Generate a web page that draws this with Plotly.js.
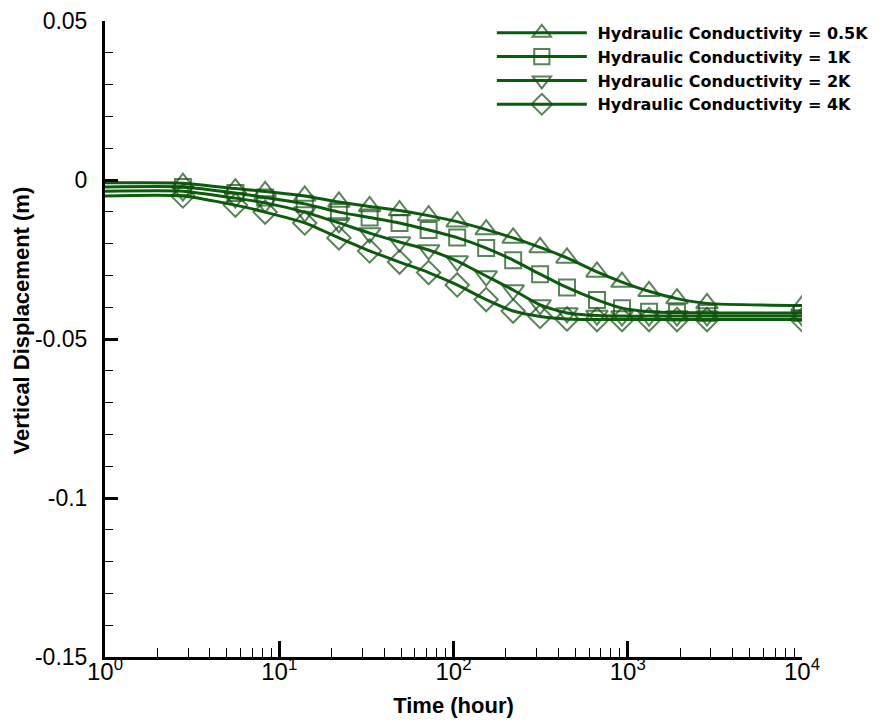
<!DOCTYPE html>
<html>
<head>
<meta charset="utf-8">
<script src="https://cdn.plot.ly/plotly-3.0.1.min.js"></script>
<style>
html,body{margin:0;padding:0;background:#fff;}
#chart{width:896px;height:724px;}
</style>
</head>
<body>
<div id="chart"></div>
<script>
// Time (hour)
const time = [1, 2.8, 5.6, 8.3, 14, 22, 33, 49, 72, 105, 154, 220, 314, 448, 666, 927, 1325, 1917, 2850, 10000];
// Vertical displacement (m)
const k05 = [-0.0009, -0.0010, -0.0027, -0.0036, -0.0050, -0.0069, -0.0083, -0.0096, -0.0112, -0.0131, -0.0156, -0.0182, -0.0212, -0.0245, -0.0289, -0.0321, -0.0350, -0.0373, -0.0388, -0.0395];
const k1  = [-0.0022, -0.0022, -0.0041, -0.0055, -0.0075, -0.0101, -0.0118, -0.0135, -0.0157, -0.0181, -0.0214, -0.0252, -0.0296, -0.0338, -0.0377, -0.0403, -0.0414, -0.0417, -0.0418, -0.0418];
const k2  = [-0.0035, -0.0035, -0.0057, -0.0072, -0.0101, -0.0135, -0.0167, -0.0195, -0.0220, -0.0255, -0.0302, -0.0346, -0.0393, -0.0418, -0.0426, -0.0428, -0.0428, -0.0428, -0.0428, -0.0428];
const k4  = [-0.0050, -0.0050, -0.0079, -0.0101, -0.0135, -0.0182, -0.0223, -0.0258, -0.0291, -0.0330, -0.0376, -0.0412, -0.0429, -0.0437, -0.0439, -0.0439, -0.0439, -0.0439, -0.0439, -0.0439];
const names = ['Hydraulic Conductivity = 0.5K', 'Hydraulic Conductivity = 1K', 'Hydraulic Conductivity = 2K', 'Hydraulic Conductivity = 4K'];
const series = [k05, k1, k2, k4];
const symbols = ['triangle-up-open', 'square-open', 'triangle-down-open', 'diamond-open'];
const msizes = [19, 16, 19, 18];
const xTickVals = [1, 10, 100, 1000, 10000];
const xTickText = ['10<sup>0</sup>', '10<sup>1</sup>', '10<sup>2</sup>', '10<sup>3</sup>', '10<sup>4</sup>'];
const yTickVals = [-0.15, -0.1, -0.05, 0, 0.05];
const yTickText = ['-0.15', '-0.1', '-0.05', '0', '0.05'];

const lineColor = '#0b5d0b';
const markColor = '#124f12';

const traces = series.map((ys, i) => ({
  x: time, y: ys, name: '&nbsp;' + names[i], type: 'scatter', mode: 'lines+markers',
  line: {color: lineColor, width: 3, shape: 'spline', smoothing: 0.6},
  marker: {symbol: symbols[i], size: time.map((t, j) => j === 0 ? 0 : msizes[i]), color: markColor, line: {color: markColor, width: 2}}
}));

const narrow = '"Liberation Sans Narrow", "Arial Narrow", "Liberation Sans", Arial, sans-serif';
const bold = '"Liberation Sans", Arial, sans-serif';
const layout = {
  width: 896, height: 724,
  margin: {l: 105, r: 94, t: 21, b: 67, autoexpand: false},
  paper_bgcolor: '#fff', plot_bgcolor: '#fff',
  showlegend: true,
  legend: {x: 0.555, y: 1.008, xanchor: 'left', yanchor: 'top', bgcolor: 'rgba(0,0,0,0)',
           font: {family: '"DejaVu Sans", Verdana, sans-serif', size: 16, color: '#000', weight: 'bold'},
           itemwidth: 90, tracegroupgap: 0},
  xaxis: {
    type: 'log', range: [0, 4], showgrid: false, zeroline: false,
    showline: true, linecolor: '#000', linewidth: 3,
    tickmode: 'array', tickvals: xTickVals, ticktext: xTickText,
    ticks: 'inside', ticklen: 16, tickwidth: 3, tickcolor: '#000',
    ticklabelstandoff: -9,
    tickfont: {family: narrow, size: 24, color: '#000'},
    minor: {ticks: 'inside', ticklen: 9, tickwidth: 1, tickcolor: '#000', dtick: 'D1', showgrid: false},
    title: {text: 'Time (hour)', font: {family: bold, size: 22, color: '#000', weight: 'bold'}, standoff: 14}
  },
  yaxis: {
    range: [-0.15, 0.05], showgrid: false, zeroline: false,
    showline: true, linecolor: '#000', linewidth: 3,
    tickmode: 'array', tickvals: yTickVals, ticktext: yTickText,
    ticks: 'inside', ticklen: 13, tickwidth: 3, tickcolor: '#000',
    ticklabelstandoff: 10,
    tickfont: {family: narrow, size: 23, color: '#000'},
    minor: {ticks: 'inside', tickmode: 'linear', tick0: 0, ticklen: 8, tickwidth: 1, tickcolor: '#000', dtick: 0.01, showgrid: false},
    title: {text: '&nbsp;&nbsp;&nbsp;&nbsp;&nbsp;&nbsp;Vertical Displacement (m)', font: {family: bold, size: 22, color: '#000', weight: 'bold'}, standoff: 0}
  }
};
Plotly.newPlot('chart', traces, layout, {displayModeBar: false, staticPlot: true});
</script>
</body>
</html>
